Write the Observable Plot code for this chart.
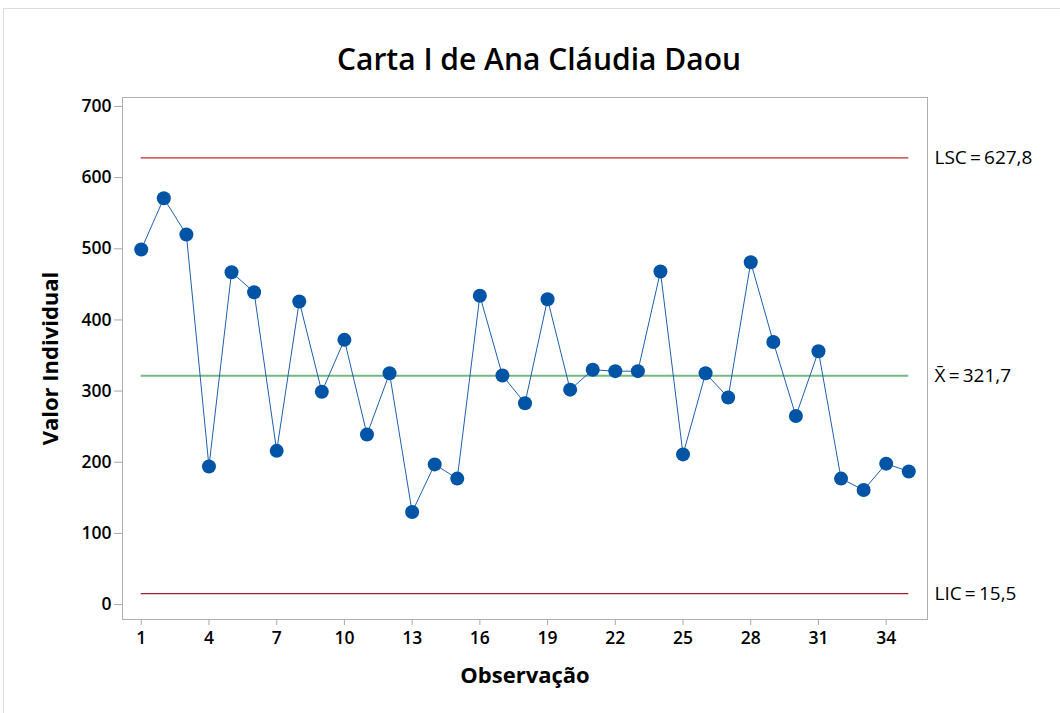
<!DOCTYPE html>
<html>
<head>
<meta charset="utf-8">
<script src="https://cdn.jsdelivr.net/npm/d3@7"></script>
<script src="https://cdn.jsdelivr.net/npm/@observablehq/plot@0.6"></script>
<style>
  html, body { margin: 0; padding: 0; background: white; }
  #wrap { position: relative; width: 1060px; height: 713px; overflow: hidden; }
  #border { position: absolute; left: 3px; top: 8px; width: 1100px; height: 800px; border: 1px solid #dcdcdc; pointer-events: none; }
  svg { display: block; }
</style>
</head>
<body>
<div id="wrap"><div id="chart"></div><div id="border"></div></div>
<script>
const observations = d3.range(1, 36);
const values = [499, 571, 520, 194, 467, 439, 216, 426, 299, 372,
                239, 325, 130, 197, 177, 434, 322, 283, 429, 302,
                330, 328, 328, 468, 211, 325, 291, 481, 369, 265,
                356, 177, 161, 198, 187];
const limitNames = ["LSC", "X\u0304", "LIC"];
const limitValues = [627.8, 321.7, 15.5];
const limitLabels = ["LSC\u2006=\u2006627,8", "X\u0304\u2006=\u2006321,7", "LIC\u2006=\u200615,5"];
const limitColors = ["#c1272d", "#74ba7f", "#9b2335"];
const limitWidths = [1.2, 2, 1.2];
const xTicks = [1, 4, 7, 10, 13, 16, 19, 22, 25, 28, 31, 34];
const yTicks = [0, 100, 200, 300, 400, 500, 600, 700];
const title = "Carta I de Ana Cláudia Daou";
const xLabel = "Observação";
const yLabel = "Valor Individual";

const points = observations.map((o, i) => ({obs: o, value: values[i]}));
const limits = limitNames.map((n, i) => ({name: n, value: limitValues[i], label: limitLabels[i], color: limitColors[i], width: limitWidths[i]}));
const xFirst = observations[0], xLast = observations[observations.length - 1];

const chart = Plot.plot({
  width: 1060,
  height: 713,
  marginLeft: 122,
  marginRight: 133,
  marginTop: 97,
  marginBottom: 94,
  style: {fontFamily: "'Open Sans', 'Noto Sans', sans-serif", background: "white", color: "black"},
  x: {domain: [0.17, 35.83]},
  y: {domain: [-21, 712.6]},
  marks: [
    Plot.frame({stroke: "#b0b0b0"}),
    Plot.axisX({ticks: xTicks, tickSize: 6, tickPadding: 6, stroke: "#a8a8a8", color: "black", fontSize: 17.5, fontWeight: 600, label: null}),
    Plot.axisY({ticks: yTicks, tickSize: 8, tickPadding: 3, stroke: "#a8a8a8", color: "black", fontSize: 17.5, fontWeight: 600, label: null}),
    ...limits.map(l => Plot.ruleY([l], {y: "value", x1: xFirst, x2: xLast, stroke: l.color, strokeWidth: l.width})),
    Plot.line(points, {x: "obs", y: "value", stroke: "#1f5fae", strokeWidth: 1}),
    Plot.dot(points, {x: "obs", y: "value", r: 7, fill: "#0054a6", stroke: "none"}),
    Plot.text(limits, {y: "value", text: "label", frameAnchor: "right", dx: 7, textAnchor: "start", lineAnchor: "middle", fontSize: 19, fill: "black"}),
    Plot.text([title], {frameAnchor: "top", dy: -37, dx: 14, textAnchor: "middle", lineAnchor: "middle", fontSize: 30, fontWeight: 600, fill: "black"}),
    Plot.text([xLabel], {frameAnchor: "bottom", dy: 56, textAnchor: "middle", lineAnchor: "middle", fontSize: 22, fontWeight: "bold", fill: "black"}),
    Plot.text([yLabel], {frameAnchor: "left", dx: -72, rotate: -90, textAnchor: "middle", lineAnchor: "middle", fontSize: 22, fontWeight: "bold", fill: "black"})
  ]
});
document.getElementById("chart").appendChild(chart);
</script>
</body>
</html>
